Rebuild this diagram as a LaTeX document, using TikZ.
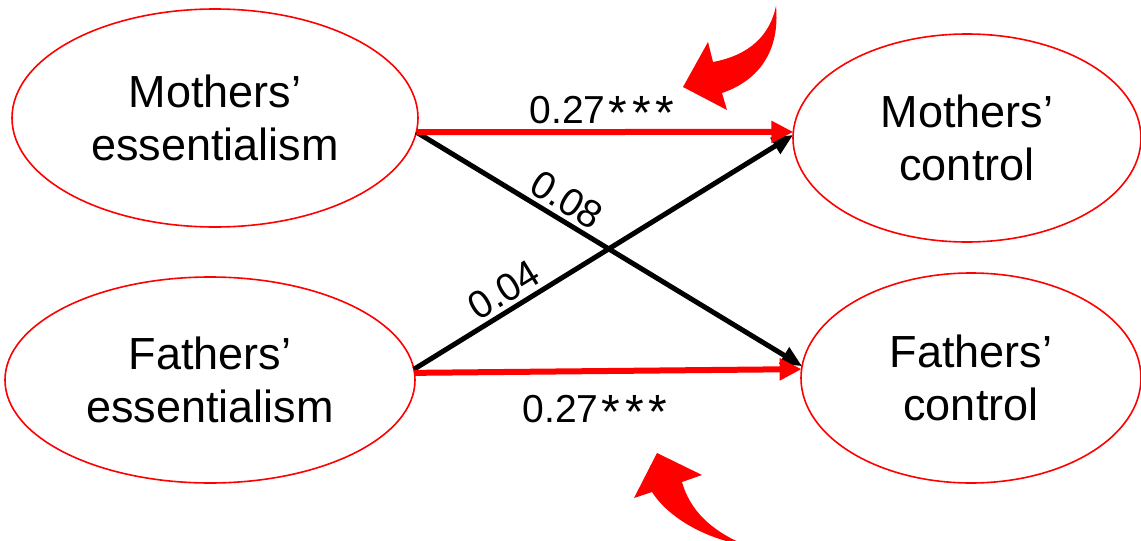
\documentclass[tikz,border=0pt]{standalone}
\usepackage{fontspec}
\setmainfont{Liberation Sans}
\usetikzlibrary{shapes.geometric,arrows.meta}
\newcommand{\stars}{{\fontsize{48}{48}\selectfont\raisebox{-6pt}{\kern3pt*\kern5pt*\kern5pt*}}}
\begin{document}
\begin{tikzpicture}[x=1pt,y=-1pt,
  oval/.style={ellipse,draw=red,line width=1.6pt,inner sep=0pt,outer sep=0pt,align=center,font=\fontsize{45}{53}\selectfont},
  redpath/.style={red,line width=6pt,-{Triangle[length=22pt,width=21pt]}},
  blackpath/.style={black,line width=5pt,-{Triangle[length=21pt,width=18pt]}},
  lab/.style={font=\fontsize{39}{44}\selectfont,inner sep=0pt},
  bigarrow/.style={fill=red,draw=none}]
\useasboundingbox (0,0) rectangle (1141,541);
\clip (0,0) rectangle (1141,541);
\node[oval,minimum width=406pt,minimum height=218pt] (me) at (215,118) {Mothers’\\essentialism};
\node[oval,minimum width=410pt,minimum height=206pt] (fe) at (210,380) {Fathers’\\essentialism};
\node[oval,minimum width=348pt,minimum height=208pt] (mc) at (967,138) {Mothers’\\control};
\node[oval,minimum width=340pt,minimum height=210pt] (fc) at (971,378) {Fathers’\\control};
\draw[blackpath] (me.-4.3) -- (fc.176.6);
\draw[blackpath] (fe.3.4) -- (mc.179.7);
\draw[redpath] (me.-4.3) -- (mc.178.4);
\draw[redpath] (fe.2.5) -- (fc.177.3);
\node[lab,anchor=base] (l1) at (602,123) {0.27\stars};
\node[lab,anchor=base] (l2) at (595,422) {0.27\stars};
\node[lab,rotate=-31.5] (l3) at (567,200) {0.08};
\node[lab,rotate=31.5] (l4) at (504,290) {0.04};
\fill[bigarrow] (776,6) .. controls (770,35) and (750,55) .. (713,62)
  -- (708,42) -- (683,87) -- (727,110) -- (722,93)
  .. controls (760,80) and (780,50) .. (776,6) -- cycle;
\fill[bigarrow] (657,453) -- (702,475) -- (682,482)
  .. controls (690,510) and (710,530) .. (745,545)
  .. controls (710,540) and (670,520) .. (652,492)
  -- (634,498) -- cycle;
\end{tikzpicture}
\end{document}
